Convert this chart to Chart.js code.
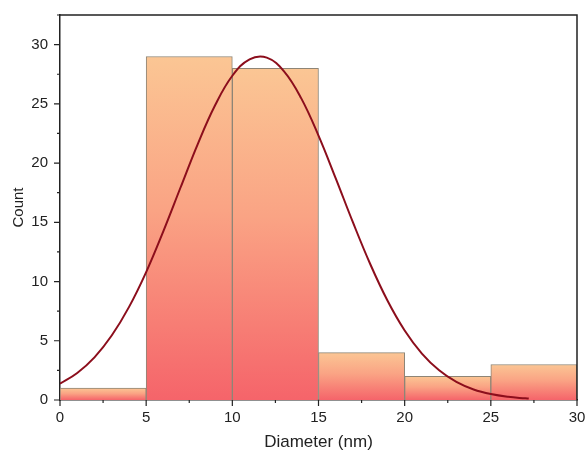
<!DOCTYPE html>
<html>
<head>
<meta charset="utf-8">
<script src="https://cdn.jsdelivr.net/npm/chart.js@4/dist/chart.umd.min.js"></script>
<style>
  html, body { margin: 0; padding: 0; background: #fff; }
  #wrap { width: 587px; height: 453px; }
</style>
</head>
<body>
<div id="wrap"><canvas id="histChart" width="587" height="453"></canvas></div>
<script>
// ── Data ────────────────────────────────────────────────────
const binCenters = [2.5, 7.5, 12.5, 17.5, 22.5, 27.5];   // 5 nm bins
const counts     = [1, 29, 28, 4, 2, 3];

// fitted curve, sampled by eye
const fitX = [0, 1, 2, 3, 4, 5, 6, 7, 8, 9, 10, 11, 12, 13, 14, 15, 16, 17, 18, 19, 20, 21, 22, 23, 24, 25, 26, 27, 27.2];
const fitY = [1.38, 2.28, 3.6, 5.44, 7.84, 10.8, 14.26, 17.96, 21.63, 24.88, 27.37, 28.76, 28.9, 27.74, 25.46, 22.32,
              18.71, 14.99, 11.48, 8.4, 5.87, 3.92, 2.51, 1.53, 0.89, 0.5, 0.27, 0.14, 0.12];

const xTicks = [0, 5, 10, 15, 20, 25, 30];
const yTicks = [0, 5, 10, 15, 20, 25, 30];

const FONT = "'Liberation Sans', Arial, sans-serif";
const INK = '#222';

// per-bar gradient, orange at the top to red at the base
function barFill(c) {
  const chart = c.chart;
  if (!chart.chartArea || c.type !== 'data') return '#F9A07F';
  const ys = chart.scales.y;
  const top = ys.getPixelForValue(c.raw.y);
  const base = ys.getPixelForValue(0);
  const g = chart.ctx.createLinearGradient(0, top, 0, base);
  g.addColorStop(0, '#FBC694');
  g.addColorStop(0.45, '#FAA384');
  g.addColorStop(1, '#F5646A');
  return g;
}

// frame on top/right + major/minor tick marks
const frameTicks = {
  id: 'frameTicks',
  afterDraw(chart) {
    const { ctx, chartArea: a, scales } = chart;
    ctx.save();
    ctx.strokeStyle = INK;
    ctx.lineWidth = 1.5;
    ctx.beginPath();
    ctx.moveTo(a.left, a.top); ctx.lineTo(a.right, a.top); ctx.lineTo(a.right, a.bottom);
    ctx.stroke();

    ctx.lineWidth = 1.2;
    ctx.beginPath();
    // x: majors at labelled ticks, minors halfway between
    xTicks.forEach((v, i) => {
      const px = scales.x.getPixelForValue(v);
      ctx.moveTo(px, a.bottom); ctx.lineTo(px, a.bottom + 6);
      if (i < xTicks.length - 1) {
        const mx = scales.x.getPixelForValue((v + xTicks[i + 1]) / 2);
        ctx.moveTo(mx, a.bottom); ctx.lineTo(mx, a.bottom + 3);
      }
    });
    scales.y.ticks.forEach(t => {
      const py = scales.y.getPixelForValue(t.value);
      const len = yTicks.includes(t.value) ? 6 : 3;
      ctx.moveTo(a.left, py); ctx.lineTo(a.left - len, py);
    });
    ctx.stroke();
    ctx.restore();
  }
};

new Chart(document.getElementById('histChart'), {
  type: 'bar',
  data: {
    datasets: [
      {
        type: 'line',
        label: 'Fit',
        data: fitX.map((x, i) => ({ x, y: fitY[i] })),
        borderColor: '#8C0E1C',
        borderWidth: 2,
        pointRadius: 0,
        tension: 0.4,
        order: 0
      },
      {
        label: 'Count',
        data: binCenters.map((x, i) => ({ x, y: counts[i] })),
        backgroundColor: barFill,
        borderColor: '#8E8576',
        borderWidth: 1,
        barPercentage: 1,
        categoryPercentage: 1,
        order: 1
      }
    ]
  },
  options: {
    responsive: false,
    animation: false,
    layout: { padding: { top: 15, right: 10, left: 0, bottom: 0 } },
    plugins: { legend: { display: false }, tooltip: { enabled: false } },
    scales: {
      x: {
        type: 'linear',
        min: 0, max: 30,
        offset: false,
        afterFit: s => { s.height = 53; s.paddingLeft = 0; s.paddingRight = 0; },
        grid: { display: false, drawTicks: false },
        border: { display: true, color: INK, width: 1.5 },
        ticks: {
          stepSize: 5, autoSkip: false, maxRotation: 0, padding: 9,
          color: INK, font: { family: FONT, size: 15 }
        },
        title: { display: true, text: 'Diameter (nm)', color: INK, font: { family: FONT, size: 17 }, padding: { top: 0, bottom: 0 } }
      },
      y: {
        min: 0, max: 32.5,
        afterFit: s => { s.width = 60; s.paddingTop = 0; s.paddingBottom = 0; },
        grid: { display: false, drawTicks: false },
        border: { display: true, color: INK, width: 1.5 },
        ticks: {
          stepSize: 2.5, autoSkip: false, padding: 12,
          color: INK, font: { family: FONT, size: 15 },
          callback: v => yTicks.includes(v) ? String(v) : ''
        },
        title: { display: true, text: 'Count', color: INK, font: { family: FONT, size: 15 }, padding: { top: 10, bottom: 0 } }
      }
    }
  },
  plugins: [frameTicks]
});
</script>
</body>
</html>
